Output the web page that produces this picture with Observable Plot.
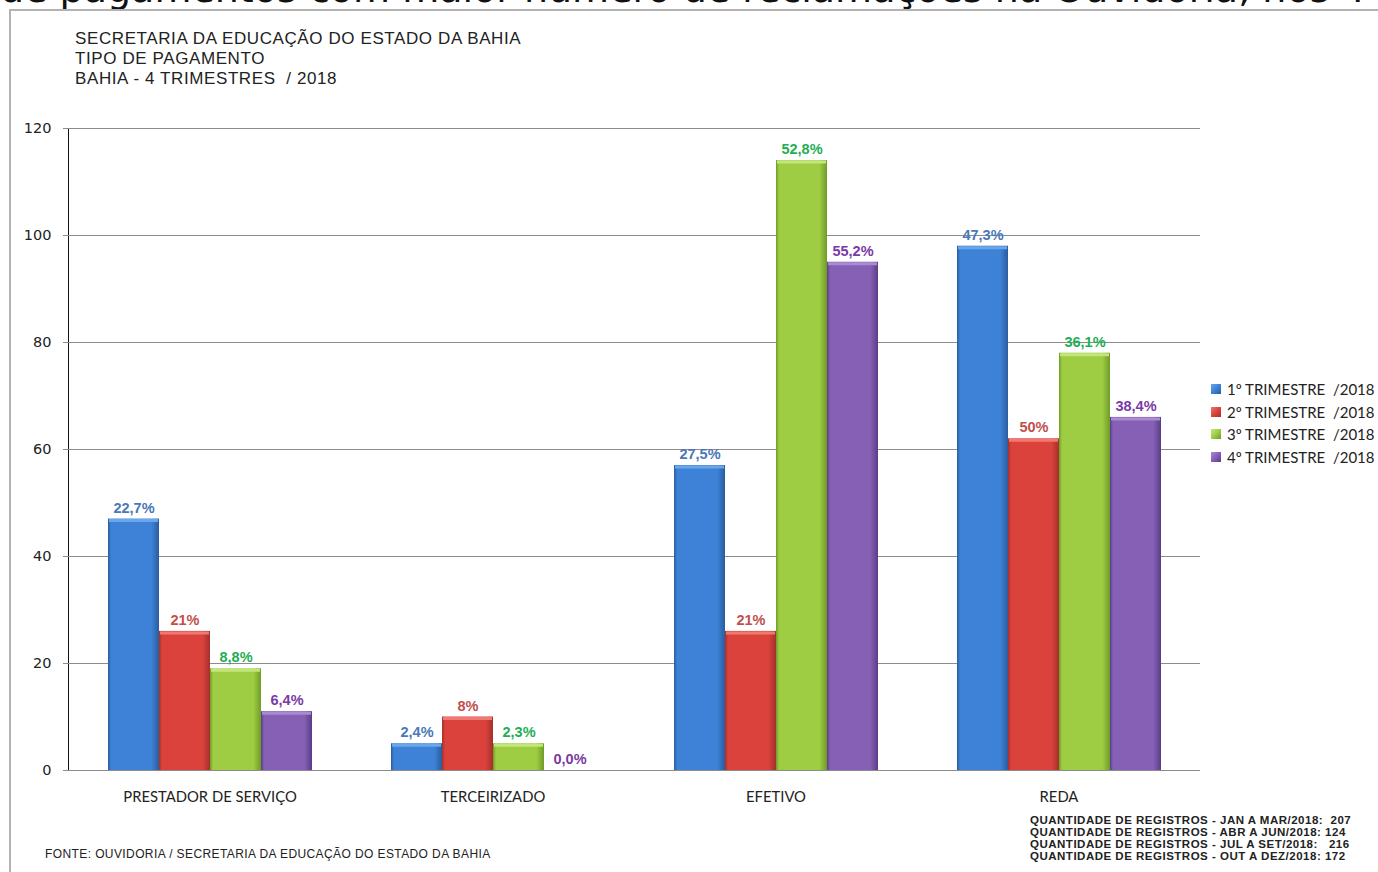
<!DOCTYPE html>
<html><head><meta charset="utf-8">
<script src="https://cdn.jsdelivr.net/npm/d3@7"></script>
<script src="https://cdn.jsdelivr.net/npm/@observablehq/plot@0.6"></script>
<style>
html,body{margin:0;padding:0;background:#fff}
body{width:1378px;height:872px;overflow:hidden;position:relative;font-family:"Liberation Sans",Arial,sans-serif;color:#111}
#cut{position:absolute;left:0;top:0;width:1378px;height:10px;overflow:hidden}
#cut span{position:absolute;left:0px;top:-33px;font-family:"DejaVu Sans",sans-serif;font-size:38px;white-space:nowrap;color:#111}
#frame{position:absolute;left:9px;top:9px;width:1369px;height:863px;border-left:2px solid #b3b3b3;border-top:2px solid #b3b3b3;background:#fff}
#chart{position:absolute;left:0;top:0}
#title{position:absolute;left:75px;top:29px;font-size:17px;line-height:20px;letter-spacing:0.6px;color:#222;white-space:pre}
#legend{position:absolute;left:1211px;top:378px;font-family:Lato,"Open Sans",sans-serif;font-size:15px;color:#222}
#legend .it{height:22.5px;line-height:22.5px;white-space:pre;display:flex;align-items:center}
#legend .sw{width:10px;height:10px;margin-right:6px;display:inline-block}
#fonte{position:absolute;left:45px;top:847px;font-size:12px;letter-spacing:0.4px;color:#222;white-space:pre}
#notes{position:absolute;left:1030px;top:814px;font-size:11.5px;line-height:12px;font-weight:bold;color:#222;white-space:pre;letter-spacing:0.5px}
#chart g[aria-label^="fx-axis"] text{font-family:Lato,"Open Sans",sans-serif;font-size:14.8px;fill:#222}
#chart g[aria-label^="y-axis"] text{font-family:"DejaVu Sans",sans-serif;font-size:14.5px;fill:#222}
</style></head><body>
<div id="cut"><span>de pagamentos com maior número de reclamações na Ouvidoria, nos 4</span></div>
<div id="frame"></div>
<div id="chart"></div>
<div id="title"></div>
<div id="legend"></div>
<div id="fonte"></div>
<div id="notes"></div>
<script>
// ---- data ----
const titleLines = ["SECRETARIA DA EDUCAÇÃO DO ESTADO DA BAHIA", "TIPO DE PAGAMENTO", "BAHIA - 4 TRIMESTRES  / 2018"];
const categories = ["PRESTADOR DE SERVIÇO", "TERCEIRIZADO", "EFETIVO", "REDA"];
const series = ["1º TRIMESTRE  /2018", "2º TRIMESTRE  /2018", "3º TRIMESTRE  /2018", "4º TRIMESTRE  /2018"];
const tri1 = [47, 5, 57, 98];
const tri2 = [26, 10, 26, 62];
const tri3 = [19, 5, 114, 78];
const tri4 = [11, 0, 95, 66];
const pct1 = ["22,7%", "2,4%", "27,5%", "47,3%"];
const pct2 = ["21%", "8%", "21%", "50%"];
const pct3 = ["8,8%", "2,3%", "52,8%", "36,1%"];
const pct4 = ["6,4%", "0,0%", "55,2%", "38,4%"];
const yTicks = [0, 20, 40, 60, 80, 100, 120];
const periods = ["JAN A MAR/2018:  207", "ABR A JUN/2018: 124", "JUL A SET/2018:   216", "OUT A DEZ/2018: 172"];
const fonte = "FONTE: OUVIDORIA / SECRETARIA DA EDUCAÇÃO DO ESTADO DA BAHIA";

// ---- styles ----
const barMain = ["#3d82d6", "#dc423c", "#9ecd44", "#8560b4"];
const barDark = ["#2a5c9e", "#a3302b", "#6f9b27", "#5a3d86"];
const barLight = ["#6aa6ea", "#ee7a74", "#c3e57a", "#a98bd2"];
const labelColors = ["#4a78b8", "#c0504d", "#1fae55", "#7a3aa5"];

const values = [tri1, tri2, tri3, tri4];
const pcts = [pct1, pct2, pct3, pct4];
const rows = [];
series.forEach((s, si) => categories.forEach((c, ci) => rows.push({cat: c, series: s, si, value: values[si][ci], pct: pcts[si][ci]})));

const marks = [
  Plot.ruleY(yTicks, {stroke: "#8c8c8c", strokeWidth: 1}),
  Plot.barY(rows, {fx: "cat", x: "series", y: "value", fill: "series", inset: 0}),
  Plot.tickY(rows.filter(d => d.value > 0), {fx: "cat", x: "series", y: "value", stroke: d => barLight[d.si], strokeWidth: 3, dy: 1.5, inset: 1})
];
series.forEach((s, si) => {
  marks.push(Plot.text(rows.filter(d => d.si === si), {
    fx: "cat", x: "series", y: "value", text: "pct", dy: -11,
    fill: labelColors[si], fontWeight: "bold", fontSize: 14.5,
    fontFamily: "Liberation Sans, Arial, sans-serif"
  }));
});

const chart = Plot.plot({
  width: 1378, height: 872,
  marginLeft: 67, marginRight: 177, marginTop: 128, marginBottom: 102,
  style: {background: "transparent", overflow: "visible"},
  fx: {domain: categories, padding: 0, axis: "bottom", label: null, tickSize: 0, tickPadding: 21},
  x: {domain: series, paddingInner: 0, paddingOuter: 0.73, axis: null},
  y: {domain: [0, 120], ticks: yTicks, tickSize: 5, tickPadding: 12, label: null, line: true},
  color: {domain: series, range: series.map((d, i) => `url(#grad${i})`)},
  marks
});
document.getElementById("chart").appendChild(chart);

// gradients for bevelled bars
const svg = d3.select(chart.tagName.toLowerCase() === "svg" ? chart : chart.querySelector("svg"));
const defs = svg.insert("defs", ":first-child");
barMain.forEach((c, i) => {
  const g = defs.append("linearGradient").attr("id", `grad${i}`).attr("x1", 0).attr("x2", 1).attr("y1", 0).attr("y2", 0);
  g.append("stop").attr("offset", "0%").attr("stop-color", barDark[i]);
  g.append("stop").attr("offset", "6%").attr("stop-color", c);
  g.append("stop").attr("offset", "85%").attr("stop-color", c);
  g.append("stop").attr("offset", "100%").attr("stop-color", barDark[i]);
});
svg.selectAll('g[aria-label^="y-axis"] path, g[aria-label^="y-axis"] line').attr("stroke", "#8c8c8c");

// texts
document.getElementById("title").innerHTML = titleLines.map(t => `<div>${t}</div>`).join("");
document.getElementById("legend").innerHTML = series.map((s, i) =>
  `<div class="it"><span class="sw" style="background:linear-gradient(135deg, ${barLight[i]}, ${barMain[i]} 50%, ${barDark[i]})"></span>${s}</div>`).join("");
document.getElementById("fonte").textContent = fonte;
document.getElementById("notes").textContent = periods.map(p => "QUANTIDADE DE REGISTROS - " + p).join("\n");
</script>
</body></html>
